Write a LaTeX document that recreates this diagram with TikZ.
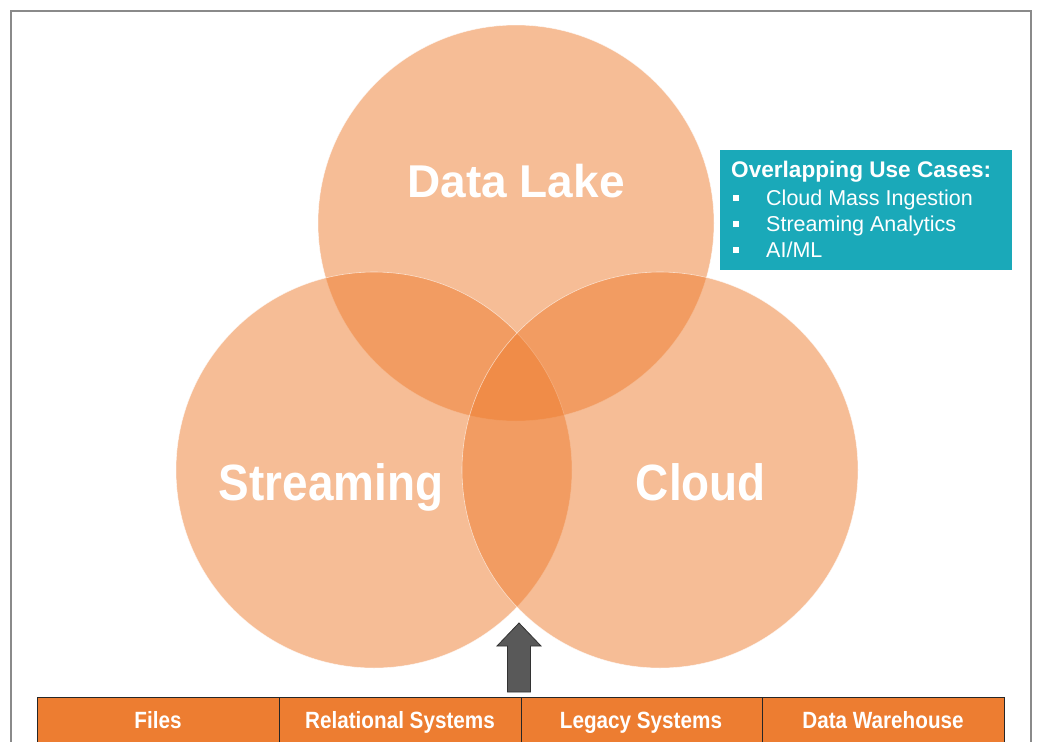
\documentclass[tikz,border=0pt]{standalone}
\usepackage{fontspec}
\setmainfont{Liberation Sans}
\newfontfamily\condfont[FakeStretch=0.88]{Liberation Sans}
\newfontfamily\bigcondfont[FakeStretch=0.9]{Liberation Sans}
\definecolor{venn}{HTML}{EF7D2F}
\definecolor{teal}{HTML}{1AA9B9}
\definecolor{barorange}{HTML}{ED7D31}
\definecolor{arrowgray}{HTML}{595959}
\definecolor{framegray}{HTML}{8A8A8A}
\tikzset{
  vcircle/.style={fill=venn, fill opacity=0.5, draw=white, draw opacity=0.6, line width=0.6pt},
  vlabel/.style={anchor=base, text=white, font=\fontsize{46}{50}\selectfont\bfseries, inner sep=0pt},
  vlabelc/.style={anchor=base, text=white, font=\bigcondfont\fontsize{51}{56}\selectfont\bfseries, inner sep=0pt},
  barcell/.style={minimum width=241.75pt, minimum height=46pt, inner sep=0pt,
    draw=black!85, line width=1pt, fill=barorange},
  bartext/.style={anchor=base, text=white, font=\condfont\fontsize{23.5}{26}\selectfont\bfseries, inner sep=0pt},
  infobox/.style={fill=teal, inner sep=0pt, minimum width=292pt, minimum height=120pt},
  boxtitle/.style={anchor=base west, text=white, font=\fontsize{22.6}{26}\selectfont\bfseries, inner sep=0pt},
  boxitem/.style={anchor=base west, text=white, font=\fontsize{21.5}{24}\selectfont, inner sep=0pt}
}
\newcommand{\bulletsq}{\rule[4pt]{6pt}{6pt}}
\begin{document}
\begin{tikzpicture}[x=1pt,y=-1pt]
\useasboundingbox (0,0) rectangle (1037,742);
\fill[white] (0,0) rectangle (1037,742);
\clip (0,0) rectangle (1037,742);
% frame
\draw[framegray, line width=2pt] (11,11) rectangle (1031,780);
% circles
\coordinate (cDL) at (516,223);
\coordinate (cST) at (374,470);
\coordinate (cCL) at (660,470);
\path[vcircle] (cDL) circle (198);
\path[vcircle] (cST) circle (198);
\path[vcircle] (cCL) circle (198);
\node[vlabel] (dl) at (516,197) {Data Lake};
\node[vlabelc] (st) at (331,500) {Streaming};
\node[vlabelc] (cl) at (701,500) {Cloud};
% info box
\node[infobox] (box) at (866,210) {};
\node[boxtitle] (ttl) at (731,177) {Overlapping Use Cases:};
\node[boxitem] (b1) at (733,205) {\bulletsq\hspace{27pt}Cloud Mass Ingestion};
\node[boxitem] (b2) at (733,231) {\bulletsq\hspace{27pt}Streaming Analytics};
\node[boxitem] (b3) at (733,257) {\bulletsq\hspace{27pt}AI/ML};
% bottom bar
\node[barcell, anchor=north west] (files) at (37,697) {};
\node[barcell, anchor=north west] (rel) at (278.75,697) {};
\node[barcell, anchor=north west] (leg) at (520.5,697) {};
\node[barcell, anchor=north west] (dw) at (762.25,697) {};
\node[bartext] (tf) at (158,728) {Files};
\node[bartext] (tr) at (400,728) {Relational Systems};
\node[bartext] (tl) at (641,728) {Legacy Systems};
\node[bartext] (td) at (883,728) {Data Warehouse};
% arrow
\coordinate (tip) at (519,623);
\draw[fill=arrowgray, draw=black!80, line width=0.8pt, line join=miter]
  (tip) -- (541,646) -- (530.5,646) -- (530.5,692) -- (507.5,692) -- (507.5,646) -- (497,646) -- cycle;
\end{tikzpicture}
\end{document}
